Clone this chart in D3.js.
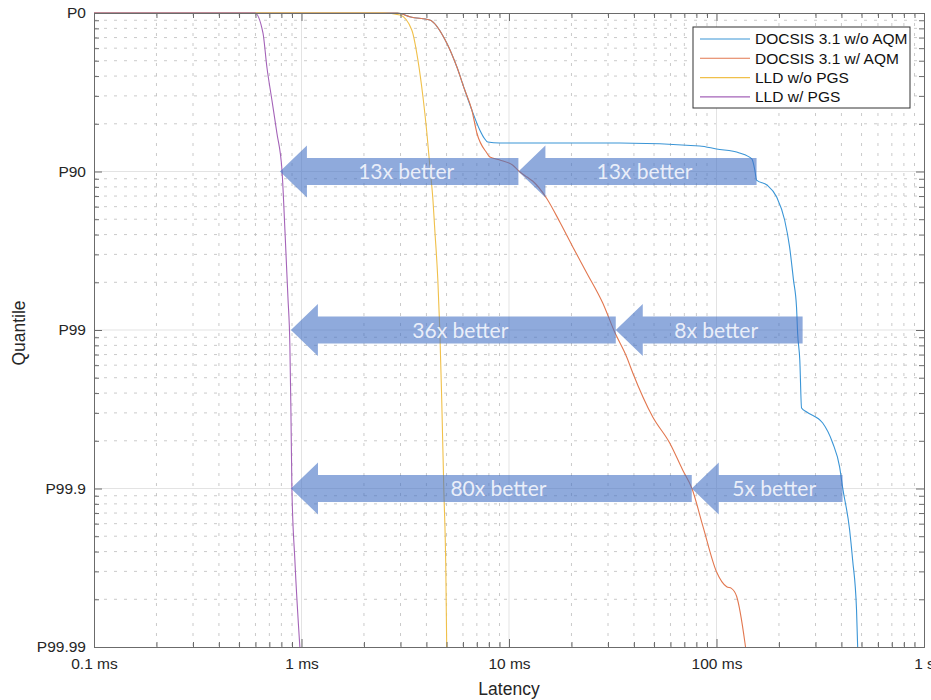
<!DOCTYPE html>
<html>
<head>
<meta charset="utf-8">
<script src="https://cdn.jsdelivr.net/npm/d3@7"></script>
<style>
    body { margin: 0; background: #fff; }
    text { font-family: "Liberation Sans", Arial, Helvetica, sans-serif; }
</style>
</head>
<body>
<div id="chart"></div>
<script>
// latency in ms, quantile as "number of nines" (P90 = 1, P99 = 2, ...)
const docsisNoAqm = [
    [0.1, 0], [2.9, 0], [3.36, 0.025], [4.15, 0.044], [5.01, 0.189], [5.61, 0.341], [6.12, 0.486],
    [6.62, 0.612], [7.23, 0.738], [7.6, 0.79], [7.9, 0.814], [9.0, 0.82], [14.1, 0.82], [34.2, 0.82],
    [83, 0.839], [100, 0.858], [129, 0.883], [148, 0.921], [153, 0.991], [156, 1.054], [175, 1.085],
    [195, 1.161], [213, 1.306], [225, 1.476], [235, 1.685], [243, 1.855], [246, 2.019], [252, 2.189],
    [257, 2.492], [272, 2.517], [325, 2.587], [363, 2.713], [392, 2.864], [405, 2.991], [438, 3.26],
    [453, 3.451], [473, 3.767], [479, 4.0]
];
const docsisAqm = [
    [0.1, 0], [2.9, 0], [3.36, 0.025], [4.15, 0.044], [5.01, 0.189], [5.61, 0.341], [6.12, 0.486],
    [6.62, 0.612], [7.0, 0.757], [7.82, 0.883], [8.09, 0.909], [9.03, 0.927], [10.4, 0.959],
    [11.3, 1.003], [12.2, 1.035], [13.0, 1.06], [15.2, 1.17], [17.6, 1.32], [20.3, 1.476],
    [23.7, 1.64], [28.3, 1.83], [32.3, 2.013], [36.9, 2.17], [39.5, 2.271], [49.3, 2.549],
    [59.5, 2.713], [68.7, 2.883], [76.0, 2.997], [86.1, 3.24], [100, 3.525], [112, 3.62],
    [118, 3.63], [125, 3.68], [137, 3.97], [138, 4.0]
];
const lldNoPgs = [
    [0.1, 0], [2.47, 0], [2.98, 0.013], [3.40, 0.107], [3.64, 0.297], [3.85, 0.53], [4.02, 0.757],
    [4.15, 0.959], [4.30, 1.18], [4.39, 1.369], [4.54, 1.685], [4.64, 2.0], [4.74, 2.44],
    [4.85, 3.0], [4.96, 3.51], [5.01, 4.0]
];
const lldPgs = [
    [0.1, 0], [0.596, 0], [0.652, 0.126], [0.681, 0.341], [0.720, 0.549], [0.761, 0.757],
    [0.806, 1.0], [0.832, 1.37], [0.860, 1.79], [0.879, 2.1], [0.889, 2.5], [0.899, 3.0],
    [0.929, 3.45], [0.982, 4.0]
];

const seriesNames = ["DOCSIS 3.1 w/o AQM", "DOCSIS 3.1 w/ AQM", "LLD w/o PGS", "LLD w/ PGS"];
const seriesColors = ["#3a95d6", "#e2774f", "#f0c04a", "#a463b8"];

const xTickValues = [0.1, 1, 10, 100, 1000];
const xTickLabels = ["0.1 ms", "1 ms", "10 ms", "100 ms", "1 s"];
const yTickValues = [0, 1, 2, 3, 4];
const yTickLabels = ["P0", "P90", "P99", "P99.9", "P99.99"];

// improvement arrows: level (nines), tip and tail latency (ms), label
const arrowNines = [1, 1, 2, 2, 3, 3];
const arrowTipMs = [0.787, 11.1, 0.889, 32.7, 0.89, 76];
const arrowTailMs = [11.1, 156, 32.7, 260, 76, 405];
const arrowLabels = ["13x better", "13x better", "36x better", "8x better", "80x better", "5x better"];

class latencyVis {
    constructor(parentElement) {
        this.parentElement = parentElement;
        this.margin = { top: 13, right: 7, bottom: 53, left: 94 };
        this.width = 931 - this.margin.left - this.margin.right;
        this.height = 700 - this.margin.top - this.margin.bottom;

        this.initializeChart();
    }

    initializeChart() {
        this.svg = d3.select(`#${this.parentElement}`)
            .append("svg")
            .attr("width", 931)
            .attr("height", 700)
            .append("g")
            .attr("transform", "translate(" + this.margin.left + "," + this.margin.top + ")");

        this.x = d3.scaleLog().domain([0.1, 1000]).range([0, this.width]);
        this.y = d3.scaleLinear().domain([0, 4]).range([0, this.height]);

        // minor positions: 2..9 within each decade
        this.xMinor = [];
        this.yMinor = [];
        for (let d = 0; d < 4; d++) {
            for (let k = 2; k <= 9; k++) {
                this.xMinor.push(k * Math.pow(10, d - 1));
                this.yMinor.push(d + 1 - Math.log10(k));
            }
        }

        this.drawGrid();
        this.drawLines();
        this.drawAxes();
        this.drawArrows();
        this.drawLegend();
    }

    drawGrid() {
        const grid = this.svg.append("g");

        grid.selectAll(".vminor").data(this.xMinor).enter().append("line")
            .attr("x1", d => this.x(d)).attr("x2", d => this.x(d))
            .attr("y1", 0).attr("y2", this.height)
            .attr("stroke", "#bdbdbd").attr("stroke-width", 0.8)
            .attr("stroke-dasharray", "3,7");

        grid.selectAll(".hminor").data(this.yMinor).enter().append("line")
            .attr("x1", 0).attr("x2", this.width)
            .attr("y1", d => this.y(d)).attr("y2", d => this.y(d))
            .attr("stroke", "#bdbdbd").attr("stroke-width", 0.8)
            .attr("stroke-dasharray", "3,7");

        grid.selectAll(".vmajor").data(xTickValues.slice(1, -1)).enter().append("line")
            .attr("x1", d => this.x(d)).attr("x2", d => this.x(d))
            .attr("y1", 0).attr("y2", this.height)
            .attr("stroke", "#e3e3e3").attr("stroke-width", 1);

        grid.selectAll(".hmajor").data(yTickValues.slice(1, -1)).enter().append("line")
            .attr("x1", 0).attr("x2", this.width)
            .attr("y1", d => this.y(d)).attr("y2", d => this.y(d))
            .attr("stroke", "#e3e3e3").attr("stroke-width", 1);
    }

    drawLines() {
        const line = d3.line()
            .x(d => this.x(d[0]))
            .y(d => this.y(d[1]))
            .curve(d3.curveMonotoneX);

        const series = [docsisNoAqm, docsisAqm, lldNoPgs, lldPgs];
        this.svg.append("g").selectAll("path")
            .data(series)
            .enter().append("path")
            .attr("d", d => line(d))
            .attr("fill", "none")
            .attr("stroke", (d, i) => seriesColors[i])
            .attr("stroke-width", 1.1);
    }

    drawAxes() {
        const fmtX = (d) => xTickLabels[xTickValues.indexOf(d)];
        const fmtY = (d) => yTickLabels[yTickValues.indexOf(d)];

        const axes = [
            [d3.axisBottom(this.x).tickValues(xTickValues).tickFormat(fmtX).tickSize(-8).tickPadding(11), "translate(0," + this.height + ")"],
            [d3.axisBottom(this.x).tickValues(this.xMinor).tickFormat("").tickSize(-5), "translate(0," + this.height + ")"],
            [d3.axisTop(this.x).tickValues(xTickValues).tickFormat("").tickSize(-8), "translate(0,0)"],
            [d3.axisTop(this.x).tickValues(this.xMinor).tickFormat("").tickSize(-5), "translate(0,0)"],
            [d3.axisLeft(this.y).tickValues(yTickValues).tickFormat(fmtY).tickSize(-8).tickPadding(8), "translate(0,0)"],
            [d3.axisLeft(this.y).tickValues(this.yMinor).tickFormat("").tickSize(-5), "translate(0,0)"],
            [d3.axisRight(this.y).tickValues(yTickValues).tickFormat("").tickSize(-8), "translate(" + this.width + ",0)"],
            [d3.axisRight(this.y).tickValues(this.yMinor).tickFormat("").tickSize(-5), "translate(" + this.width + ",0)"]
        ];

        axes.forEach(([axis, tr]) => {
            const g = this.svg.append("g").attr("transform", tr).call(axis.tickSizeOuter(0));
            g.select(".domain").attr("stroke", "#6b6b6b");
            g.selectAll("line").attr("stroke", "#6b6b6b");
            g.selectAll("text")
                .style("font-size", "15.5px")
                .attr("fill", "#262626")
                .style("font-family", "'Liberation Sans', Arial, sans-serif");
        });

        this.svg.append("text")
            .attr("x", this.width / 2)
            .attr("y", this.height + 48)
            .attr("text-anchor", "middle")
            .style("font-size", "17.5px")
            .attr("fill", "#262626")
            .text("Latency");

        this.svg.append("text")
            .attr("transform", "translate(" + (25 - this.margin.left) + "," + (this.height / 2 + 3) + ") rotate(-90)")
            .attr("text-anchor", "middle")
            .style("font-size", "17.5px")
            .attr("fill", "#262626")
            .text("Quantile");
    }

    drawArrows() {
        const headLen = 27, headHalf = 26, bodyHalf = 13.5;
        const arrows = arrowLabels.map((label, i) => ({
            label: label,
            yc: this.y(arrowNines[i]),
            tip: this.x(arrowTipMs[i]),
            tail: this.x(arrowTailMs[i])
        }));

        const g = this.svg.append("g");
        g.selectAll("path")
            .data(arrows)
            .enter().append("path")
            .attr("d", d => {
                const hb = d.tip + headLen;
                return "M" + d.tip + "," + d.yc +
                    "L" + hb + "," + (d.yc - headHalf) +
                    "L" + hb + "," + (d.yc - bodyHalf) +
                    "L" + d.tail + "," + (d.yc - bodyHalf) +
                    "L" + d.tail + "," + (d.yc + bodyHalf) +
                    "L" + hb + "," + (d.yc + bodyHalf) +
                    "L" + hb + "," + (d.yc + headHalf) + "Z";
            })
            .attr("fill", "#4472C4")
            .attr("fill-opacity", 0.6);

        g.selectAll("text")
            .data(arrows)
            .enter().append("text")
            .attr("x", d => (d.tip + d.tail) / 2 + 7)
            .attr("y", d => d.yc)
            .attr("dy", "0.36em")
            .attr("text-anchor", "middle")
            .style("font-family", "Lato, 'Open Sans', sans-serif")
            .style("font-size", "21px")
            .attr("fill", "#f4f6fc")
            .attr("fill-opacity", 0.92)
            .text(d => d.label);
    }

    drawLegend() {
        const lg = this.svg.append("g")
            .attr("transform", "translate(" + (693 - this.margin.left) + "," + (27 - this.margin.top) + ")");

        lg.append("rect")
            .attr("width", 217)
            .attr("height", 81)
            .attr("fill", "#fff")
            .attr("stroke", "#333")
            .attr("stroke-width", 1);

        const rows = lg.selectAll(".row")
            .data(seriesNames)
            .enter().append("g")
            .attr("transform", (d, i) => "translate(0," + (12 + i * 19.3) + ")");

        rows.append("line")
            .attr("x1", 7).attr("x2", 57)
            .attr("stroke", (d, i) => seriesColors[i])
            .attr("stroke-width", 1.1);

        rows.append("text")
            .attr("x", 62)
            .attr("dy", "0.35em")
            .style("font-size", "15.5px")
            .attr("fill", "#111")
            .text(d => d);
    }
}

new latencyVis("chart");
</script>
</body>
</html>
